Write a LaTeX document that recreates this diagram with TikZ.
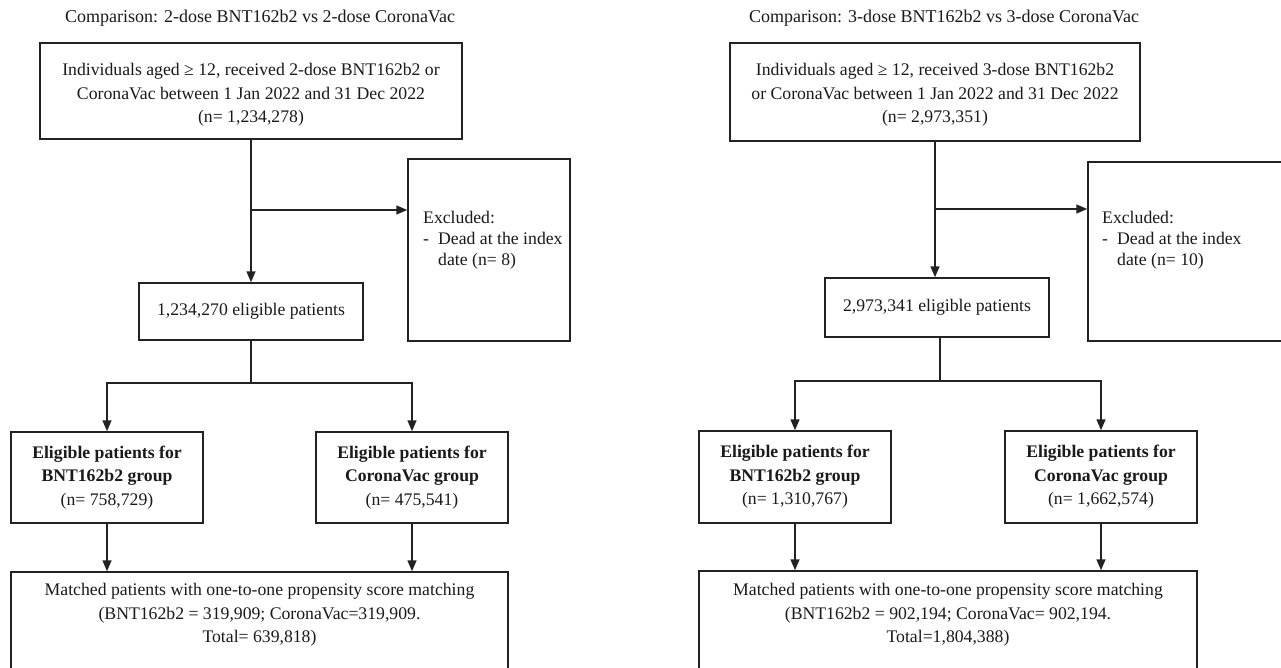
\documentclass[tikz,border=0pt]{standalone}
\usepackage{fontspec}
\setmainfont{Liberation Serif}
\usetikzlibrary{arrows.meta}
\newcommand\myfs{\fontsize{17.7pt}{23.5pt}\selectfont}
\newcommand\myexfs{\fontsize{17.7pt}{21pt}\selectfont}
\newcommand\mytitlefs{\fontsize{18pt}{22pt}\selectfont}
\definecolor{lc}{HTML}{222222}
\definecolor{tc}{HTML}{1A1A1A}
\begin{document}
\begin{tikzpicture}[x=1pt,y=-1pt,
  boxs/.style={draw=lc, line width=1.5pt, inner sep=0pt, align=center, font=\myfs, text=tc},
  txt/.style={inner sep=0pt, align=center, font=\myfs, text=tc},
  extxt/.style={inner sep=0pt, align=left, font=\myexfs, text=tc, anchor=west},
  ttl/.style={inner sep=0pt, font=\mytitlefs, text=tc},
  ln/.style={draw=lc, line width=1.5pt},
  arr/.style={draw=lc, line width=1.5pt, -{Triangle[length=11pt,width=9pt]}}]
\useasboundingbox[fill=white] (0,0) rectangle (1281,668);

% ---------------- left panel ----------------
\node[ttl] (titleL) at (260,18) {Comparison: 2-dose BNT162b2 vs 2-dose CoronaVac};
\node[boxs, minimum width=422pt, minimum height=96pt] (topL) at (251,91) {};
\node[txt] (topLt) at (251,95)
  {Individuals aged ≥ 12, received 2-dose BNT162b2 or\\CoronaVac between 1 Jan 2022 and 31 Dec 2022\\(n= 1,234,278)};
\node[boxs, minimum width=162pt, minimum height=182pt] (exclL) at (489,250) {};
\node[extxt] (exclLt) at (423,240) {Excluded:\\\makebox[15pt][l]{-}Dead at the index\\\hspace*{15pt}date (n= 8)};
\node[boxs, minimum width=224pt, minimum height=57pt] (eligL) at (251,311.5) {1,234,270 eligible patients};
\node[boxs, minimum width=192pt, minimum height=91pt] (bntL) at (107,477.5)
  {\textbf{Eligible patients for}\\\textbf{BNT162b2 group}\\(n= 758,729)};
\node[boxs, minimum width=192pt, minimum height=91pt] (corL) at (412,477.5)
  {\textbf{Eligible patients for}\\\textbf{CoronaVac group}\\(n= 475,541)};
\node[boxs, minimum width=497pt, minimum height=140pt] (matL) at (259.5,642) {};
\node[txt] (matLt) at (259.5,615)
  {Matched patients with one-to-one propensity score matching\\(BNT162b2 = 319,909; CoronaVac=319,909.\\Total= 639,818)};

\coordinate (brL) at (251,210);
\coordinate (jL) at (251,383);
\draw[arr] (topL.south) -- (eligL.north);
\draw[arr] (brL) -- (brL -| exclL.west);
\draw[ln] (eligL.south) -- (jL);
\draw[arr] (jL) -| (bntL.north);
\draw[arr] (jL) -| (corL.north);
\draw[arr] (bntL.south) -- (bntL.south |- matL.north);
\draw[arr] (corL.south) -- (corL.south |- matL.north);

% ---------------- right panel ----------------
\node[ttl] (titleR) at (944,18) {Comparison: 3-dose BNT162b2 vs 3-dose CoronaVac};
\node[boxs, minimum width=410pt, minimum height=98pt] (topR) at (935,92) {};
\node[txt] (topRt) at (935,95)
  {Individuals aged ≥ 12, received 3-dose BNT162b2\\or CoronaVac between 1 Jan 2022 and 31 Dec 2022\\(n= 2,973,351)};
\node[boxs, minimum width=222pt, minimum height=179pt] (exclR) at (1199,251.5) {};
\node[extxt] (exclRt) at (1102,240) {Excluded:\\\makebox[15pt][l]{-}Dead at the index\\\hspace*{15pt}date (n= 10)};
\node[boxs, minimum width=224pt, minimum height=59pt] (eligR) at (937,307.5) {2,973,341 eligible patients};
\node[boxs, minimum width=192pt, minimum height=92pt] (bntR) at (795,477)
  {\textbf{Eligible patients for}\\\textbf{BNT162b2 group}\\(n= 1,310,767)};
\node[boxs, minimum width=192pt, minimum height=92pt] (corR) at (1101,477)
  {\textbf{Eligible patients for}\\\textbf{CoronaVac group}\\(n= 1,662,574)};
\node[boxs, minimum width=498pt, minimum height=140pt] (matR) at (948,641) {};
\node[txt] (matRt) at (948,615)
  {Matched patients with one-to-one propensity score matching\\(BNT162b2 = 902,194; CoronaVac= 902,194.\\Total=1,804,388)};

\coordinate (brR) at (935,209);
\coordinate (jR) at (940,381);
\draw[arr] (topR.south) -- (topR.south |- eligR.north);
\draw[arr] (brR) -- (brR -| exclR.west);
\draw[ln] (eligR.south -| jR) -- (jR);
\draw[arr] (jR) -| (bntR.north);
\draw[arr] (jR) -| (corR.north);
\draw[arr] (bntR.south) -- (bntR.south |- matR.north);
\draw[arr] (corR.south) -- (corR.south |- matR.north);
\end{tikzpicture}
\end{document}
